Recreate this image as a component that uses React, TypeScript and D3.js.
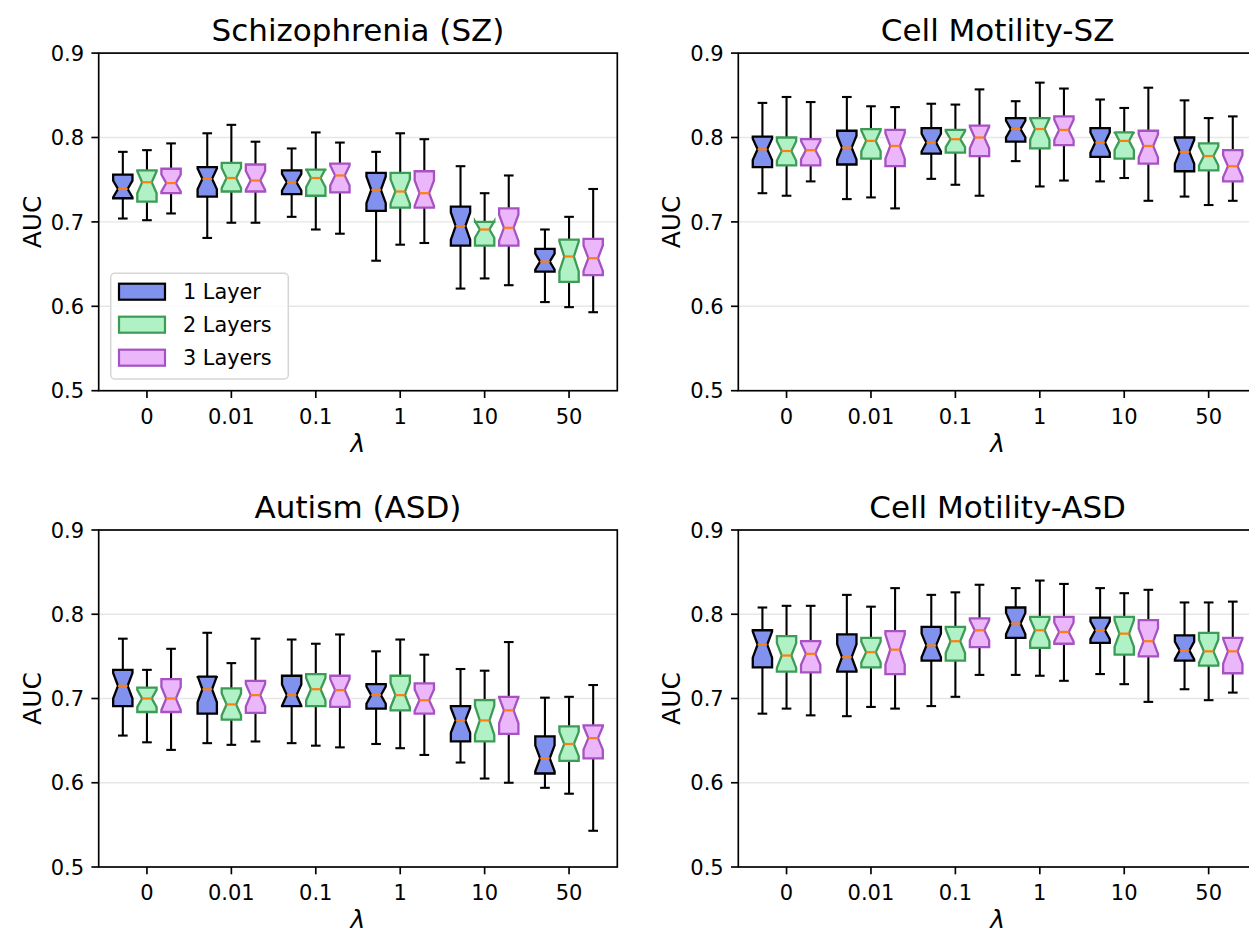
import React from "react";
import * as d3 from "d3";

// ---------- data: [whiskerLow, q1, median, q3, whiskerHigh] per lambda ----------
const lambdas = ["0", "0.01", "0.1", "1", "10", "50"];
const layerNames = ["1 Layer", "2 Layers", "3 Layers"];
const yTicks = [0.5, 0.6, 0.7, 0.8, 0.9];

const szL1 = [[0.704,0.728,0.739,0.756,0.783],[0.681,0.730,0.751,0.765,0.805],[0.706,0.733,0.747,0.761,0.787],[0.654,0.713,0.738,0.758,0.783],[0.621,0.672,0.695,0.718,0.766],[0.605,0.641,0.653,0.668,0.691]];
const szL2 = [[0.702,0.724,0.747,0.761,0.785],[0.699,0.736,0.752,0.770,0.815],[0.691,0.731,0.752,0.762,0.806],[0.673,0.717,0.736,0.758,0.805],[0.633,0.672,0.691,0.700,0.734],[0.599,0.629,0.659,0.679,0.706]];
const szL3 = [[0.710,0.734,0.746,0.763,0.793],[0.699,0.736,0.749,0.768,0.795],[0.686,0.735,0.755,0.769,0.794],[0.675,0.717,0.734,0.760,0.798],[0.625,0.672,0.693,0.716,0.755],[0.593,0.637,0.657,0.680,0.739]];

const cmszL1 = [[0.734,0.765,0.786,0.801,0.841],[0.727,0.768,0.788,0.808,0.848],[0.751,0.781,0.794,0.811,0.840],[0.772,0.795,0.810,0.823,0.843],[0.748,0.777,0.794,0.811,0.845],[0.730,0.760,0.783,0.800,0.844]];
const cmszL2 = [[0.731,0.767,0.784,0.800,0.848],[0.729,0.775,0.796,0.810,0.837],[0.744,0.782,0.798,0.809,0.839],[0.742,0.787,0.810,0.823,0.865],[0.752,0.775,0.796,0.806,0.835],[0.720,0.761,0.778,0.793,0.823]];
const cmszL3 = [[0.748,0.767,0.785,0.798,0.842],[0.716,0.766,0.790,0.809,0.836],[0.731,0.778,0.800,0.814,0.857],[0.749,0.791,0.809,0.825,0.858],[0.725,0.769,0.790,0.808,0.859],[0.725,0.748,0.766,0.785,0.825]];

const asdL1 = [[0.656,0.691,0.715,0.734,0.771],[0.647,0.682,0.711,0.726,0.778],[0.647,0.691,0.704,0.727,0.770],[0.646,0.688,0.704,0.717,0.756],[0.624,0.649,0.674,0.691,0.735],[0.594,0.611,0.629,0.655,0.701]];
const asdL2 = [[0.648,0.684,0.700,0.713,0.734],[0.645,0.675,0.693,0.712,0.742],[0.644,0.691,0.711,0.729,0.765],[0.641,0.686,0.704,0.727,0.770],[0.605,0.649,0.674,0.698,0.733],[0.587,0.626,0.646,0.667,0.702]];
const asdL3 = [[0.639,0.684,0.700,0.723,0.759],[0.649,0.683,0.704,0.721,0.771],[0.642,0.690,0.710,0.727,0.776],[0.633,0.682,0.698,0.718,0.752],[0.600,0.658,0.686,0.702,0.767],[0.543,0.629,0.653,0.668,0.716]];

const cmasdL1 = [[0.682,0.737,0.764,0.781,0.808],[0.679,0.732,0.749,0.776,0.823],[0.691,0.745,0.763,0.785,0.823],[0.728,0.772,0.789,0.808,0.831],[0.729,0.766,0.781,0.796,0.831],[0.711,0.745,0.757,0.775,0.814]];
const cmasdL2 = [[0.688,0.732,0.751,0.774,0.810],[0.690,0.737,0.755,0.772,0.809],[0.702,0.745,0.768,0.785,0.826],[0.727,0.760,0.781,0.797,0.840],[0.717,0.752,0.777,0.797,0.825],[0.698,0.739,0.756,0.778,0.814]];
const cmasdL3 = [[0.680,0.731,0.753,0.768,0.810],[0.688,0.729,0.758,0.780,0.831],[0.728,0.761,0.781,0.795,0.835],[0.721,0.765,0.779,0.797,0.836],[0.696,0.750,0.768,0.793,0.829],[0.707,0.730,0.756,0.772,0.815]];

const N_RUNS = 20;

// ---------- styles ----------
const FONT = "DejaVu Sans, Verdana, sans-serif";
const fills = ["#8091ee", "#b0f1c6", "#ecb6fb"];
const edges = ["#000000", "#3c9c55", "#a652c2"];
const MEDIAN = "#ff7f0e";

const panels = [
  { title: "Schizophrenia (SZ)", left: 98.7, top: 53.1, bottom: 390.7, data: [szL1, szL2, szL3], legend: true },
  { title: "Cell Motility-SZ", left: 738.3, top: 53.1, bottom: 390.7, data: [cmszL1, cmszL2, cmszL3], legend: false },
  { title: "Autism (ASD)", left: 98.7, top: 530, bottom: 867, data: [asdL1, asdL2, asdL3], legend: false },
  { title: "Cell Motility-ASD", left: 738.3, top: 530, bottom: 867, data: [cmasdL1, cmasdL2, cmasdL3], legend: false },
];
const AX_W = 518.6;

function Box({ x, y, pos, stats, layer }) {
  const [lo, q1, med, q3, hi] = stats;
  const w = 0.8;
  const ci = (1.57 * (q3 - q1)) / Math.sqrt(N_RUNS);
  const cilo = med - ci, cihi = med + ci;
  const bl = x(pos - w / 2), br = x(pos + w / 2);
  const cl = x(pos - w / 4), cr = x(pos + w / 4);
  const pts = [
    [bl, q1], [br, q1], [br, cilo], [cr, med], [br, cihi], [br, q3],
    [bl, q3], [bl, cihi], [cl, med], [bl, cilo], [bl, q1],
  ];
  const d = d3.line()(pts.map(([px, v]) => [px, y(v)])) + "Z";
  const cx = x(pos);
  return (
    <g>
      <line x1={cx} x2={cx} y1={y(q1)} y2={y(lo)} stroke="#000" strokeWidth={2.1} />
      <line x1={cx} x2={cx} y1={y(q3)} y2={y(hi)} stroke="#000" strokeWidth={2.1} />
      <line x1={cl} x2={cr} y1={y(lo)} y2={y(lo)} stroke="#000" strokeWidth={2.1} />
      <line x1={cl} x2={cr} y1={y(hi)} y2={y(hi)} stroke="#000" strokeWidth={2.1} />
      <path d={d} fill={fills[layer]} stroke={edges[layer]} strokeWidth={2.3} strokeLinejoin="miter" />
      <line x1={cl} x2={cr} y1={y(med)} y2={y(med)} stroke={MEDIAN} strokeWidth={2.2} />
    </g>
  );
}

function Panel({ p }) {
  const x = d3.scaleLinear().domain([-2, 19.5]).range([p.left, p.left + AX_W]);
  const y = d3.scaleLinear().domain([0.5, 0.9]).range([p.bottom, p.top]);
  const cxAx = p.left + AX_W / 2;
  const cyAx = (p.top + p.bottom) / 2;
  return (
    <g>
      {yTicks.map((t) => (
        <line key={"g" + t} x1={p.left} x2={p.left + AX_W} y1={y(t)} y2={y(t)} stroke="#e6e6e6" strokeWidth={1.4} />
      ))}
      {lambdas.map((lam, i) =>
        p.data.map((series, li) => (
          <Box key={lam + "-" + li} x={x} y={y} pos={3.5 * i + (li - 1)} stats={series[i]} layer={li} />
        ))
      )}
      <rect x={p.left} y={p.top} width={AX_W} height={p.bottom - p.top} fill="none" stroke="#000" strokeWidth={1.67} />
      {yTicks.map((t) => (
        <g key={"y" + t}>
          <line x1={p.left - 7.3} x2={p.left} y1={y(t)} y2={y(t)} stroke="#000" strokeWidth={1.67} />
          <text x={p.left - 14.6} y={y(t) + 7.6} textAnchor="end" fontSize={21} fontFamily={FONT} fill="#000">
            {t.toFixed(1)}
          </text>
        </g>
      ))}
      {lambdas.map((lam, i) => (
        <g key={"x" + lam}>
          <line x1={x(3.5 * i)} x2={x(3.5 * i)} y1={p.bottom} y2={p.bottom + 7.3} stroke="#000" strokeWidth={1.67} />
          <text x={x(3.5 * i)} y={p.bottom + 33.4} textAnchor="middle" fontSize={21} fontFamily={FONT} fill="#000">
            {lam}
          </text>
        </g>
      ))}
      <text x={cxAx} y={p.top - 12.5} textAnchor="middle" fontSize={31} fontFamily={FONT} fill="#000">
        {p.title}
      </text>
      <text x={cxAx} y={p.bottom + 61} textAnchor="middle" fontSize={25} fontStyle="italic" fontFamily={FONT} fill="#000">
        λ
      </text>
      <text
        transform={`translate(${p.left - 58},${cyAx}) rotate(-90)`}
        textAnchor="middle"
        fontSize={25}
        fontFamily={FONT}
        fill="#000"
      >
        AUC
      </text>
      {p.legend && (
        <g>
          <rect x={110.7} y={273.3} width={177.6} height={105.7} rx={4} fill="#ffffff" fillOpacity={0.8} stroke="#d6d6d6" strokeWidth={1.5} />
          {layerNames.map((name, li) => {
            const cy = 291.7 + li * 33;
            return (
              <g key={name}>
                <rect x={119} y={cy - 8} width={46} height={16} fill={fills[li]} stroke={edges[li]} strokeWidth={2.2} />
                <text x={183} y={cy + 7.5} fontSize={20.8} fontFamily={FONT} fill="#000">
                  {name}
                </text>
              </g>
            );
          })}
        </g>
      )}
    </g>
  );
}

export default function App() {
  return (
    <svg
      width={1249}
      height={935}
      viewBox="0 0 1249 935"
      style={{ position: "absolute", left: 0, top: 0, background: "#fff", display: "block" }}
    >
      <rect x={0} y={0} width={1249} height={935} fill="#fff" />
      {panels.map((p) => (
        <Panel key={p.title} p={p} />
      ))}
    </svg>
  );
}
